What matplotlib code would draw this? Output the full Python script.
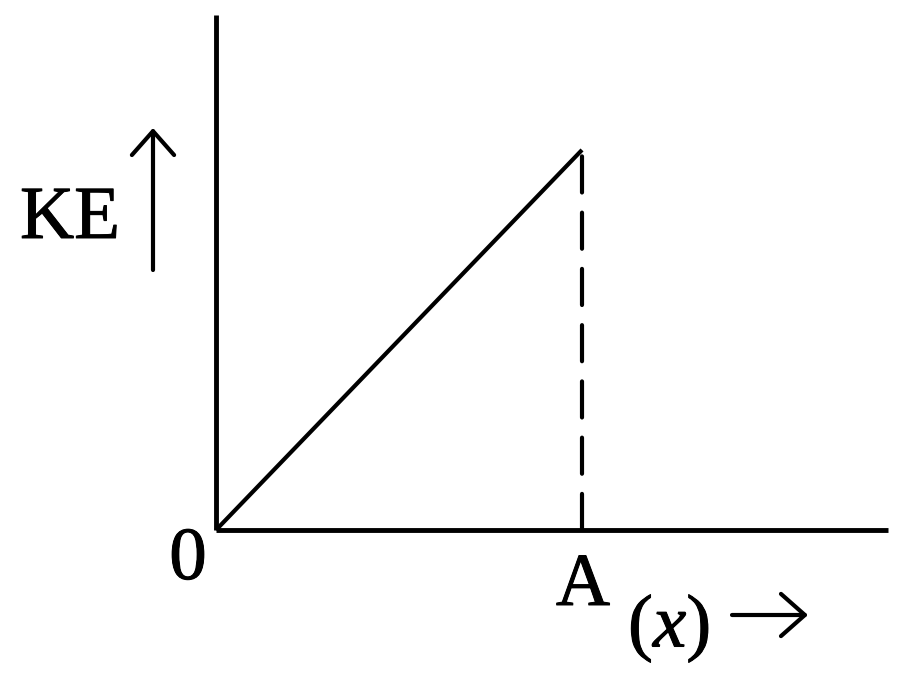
import matplotlib
matplotlib.use("Agg")
import matplotlib.pyplot as plt
import matplotlib.patheffects as pe

# Data (normalised: A = 1, KE at A = 1)
x_points = [0.0, 1.0]
ke_points = [0.0, 1.0]
x_A = 1.0
ke_A = 1.0
x_max = 1.836
y_max = 1.355

plt.rcParams['font.family'] = ['Liberation Serif', 'DejaVu Serif']
plt.rcParams['mathtext.fontset'] = 'custom'
plt.rcParams['mathtext.rm'] = 'Liberation Serif'
plt.rcParams['mathtext.it'] = 'Liberation Serif:italic'
plt.rcParams['lines.scale_dashes'] = False

W, H = 900, 674
fig = plt.figure(figsize=(W / 100, H / 100), dpi=100)
ax = fig.add_axes([216 / W, (H - 530) / H, 672 / W, 515 / H])
ax.set_xlim(0, x_max)
ax.set_ylim(0, y_max)
for s in ['top', 'right']:
    ax.spines[s].set_visible(False)
for s in ['left', 'bottom']:
    ax.spines[s].set_linewidth(3.5)
    ax.spines[s].set_capstyle('butt')
ax.set_xticks([])
ax.set_yticks([])
ax.patch.set_alpha(0)

ax.plot(x_points, ke_points, color='black', lw=3.0, solid_capstyle='butt', clip_on=False)
ax.plot([x_A, x_A], [0, ke_A], color='black', lw=3.0, dashes=(26, 14.5),
        dash_capstyle='round', clip_on=False)

def fx(px):
    return px / W

def fy(py):
    return (H - py) / H

fs = 54
thick = [pe.withStroke(linewidth=0.7, foreground='black')]
fig.text(fx(188), fy(579), '0', fontsize=fs, ha='center', va='baseline', path_effects=thick)
fig.text(fx(583), fy(605), 'A', fontsize=fs, ha='center', va='baseline', path_effects=thick)
fig.text(fx(20), fy(238), 'KE', fontsize=fs, ha='left', va='baseline', path_effects=thick)
fig.text(fx(628), fy(647), r'$(x)$', fontsize=fs, ha='left', va='baseline', path_effects=thick)

arrow_style = '->,head_length=0.43,head_width=0.38'
fig.add_artist(matplotlib.patches.FancyArrowPatch(
    (fx(153), fy(270)), (fx(153), fy(128)), transform=fig.transFigure,
    arrowstyle=arrow_style, mutation_scale=40, lw=3.0, color='black',
    shrinkA=0, shrinkB=0))
fig.add_artist(matplotlib.patches.FancyArrowPatch(
    (fx(732), fy(615)), (fx(808), fy(615)), transform=fig.transFigure,
    arrowstyle=arrow_style, mutation_scale=40, lw=3.0, color='black',
    shrinkA=0, shrinkB=0))

fig.savefig('out.png', dpi=100, facecolor='white')
